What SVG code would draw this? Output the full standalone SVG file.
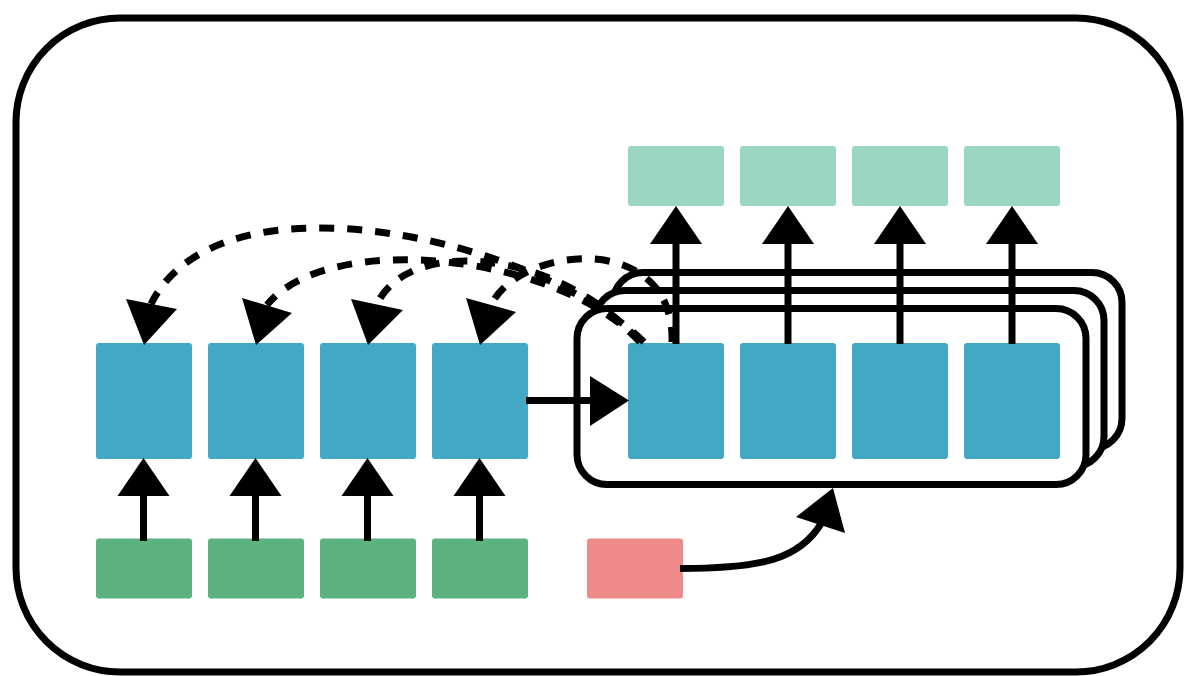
<svg xmlns="http://www.w3.org/2000/svg" width="1186" height="676" viewBox="0 0 1186 676">
  <style>
    .frame { fill: #ffffff; stroke: #000000; stroke-width: 7; }
    .stack { fill: #ffffff; stroke: #000000; stroke-width: 7; }
    .enc { fill: #42a8c4; }
    .dec { fill: #42a8c4; }
    .inp { fill: #5bb280; }
    .out { fill: #9bd6c5; }
    .ctx { fill: #ef8a8a; }
    .line { fill: none; stroke: #000000; stroke-width: 7; }
    .dash { fill: none; stroke: #000000; stroke-width: 7; stroke-dasharray: 15 13; }
    .head { fill: #000000; }
  </style>

  <!-- outer frame -->
  <rect class="frame" x="16" y="18" width="1164" height="654" rx="104" ry="104"/>

  <!-- stacked decoder layers (back to front) -->
  <g id="decoder-stack">
    <rect class="stack" x="613" y="272.5" width="509" height="176" rx="30" ry="30"/>
    <rect class="stack" x="595" y="290.5" width="509" height="176" rx="30" ry="30"/>
    <rect class="stack" x="577" y="308.5" width="509" height="176" rx="30" ry="30"/>
  </g>

  <!-- input tokens -->
  <g id="input-1"><rect class="inp" x="96" y="538.5" width="96" height="60" rx="3"/></g>
  <g id="input-2"><rect class="inp" x="208" y="538.5" width="96" height="60" rx="3"/></g>
  <g id="input-3"><rect class="inp" x="320" y="538.5" width="96" height="60" rx="3"/></g>
  <g id="input-4"><rect class="inp" x="432" y="538.5" width="96" height="60" rx="3"/></g>

  <!-- encoder states -->
  <g id="encoder-1"><rect class="enc" x="96" y="343" width="96" height="116" rx="3"/></g>
  <g id="encoder-2"><rect class="enc" x="208" y="343" width="96" height="116" rx="3"/></g>
  <g id="encoder-3"><rect class="enc" x="320" y="343" width="96" height="116" rx="3"/></g>
  <g id="encoder-4"><rect class="enc" x="432" y="343" width="96" height="116" rx="3"/></g>

  <!-- decoder states -->
  <g id="decoder-1"><rect class="dec" x="628" y="343" width="96" height="116" rx="3"/></g>
  <g id="decoder-2"><rect class="dec" x="740" y="343" width="96" height="116" rx="3"/></g>
  <g id="decoder-3"><rect class="dec" x="852" y="343" width="96" height="116" rx="3"/></g>
  <g id="decoder-4"><rect class="dec" x="964" y="343" width="96" height="116" rx="3"/></g>

  <!-- outputs -->
  <g id="output-1"><rect class="out" x="628" y="146" width="96" height="60" rx="3"/></g>
  <g id="output-2"><rect class="out" x="740" y="146" width="96" height="60" rx="3"/></g>
  <g id="output-3"><rect class="out" x="852" y="146" width="96" height="60" rx="3"/></g>
  <g id="output-4"><rect class="out" x="964" y="146" width="96" height="60" rx="3"/></g>

  <!-- context / extra input -->
  <g id="context"><rect class="ctx" x="587" y="538.5" width="96" height="60" rx="3"/></g>

  <g id="connectors">
    <!-- inputs up into encoder -->
    <line class="line" x1="143.5" y1="541" x2="143.5" y2="494"/>
    <polygon class="head" points="117.5,496 169.5,496 143.5,458"/>
    <line class="line" x1="255.5" y1="541" x2="255.5" y2="494"/>
    <polygon class="head" points="229.5,496 281.5,496 255.5,458"/>
    <line class="line" x1="367.5" y1="541" x2="367.5" y2="494"/>
    <polygon class="head" points="341.5,496 393.5,496 367.5,458"/>
    <line class="line" x1="479.5" y1="541" x2="479.5" y2="494"/>
    <polygon class="head" points="453.5,496 505.5,496 479.5,458"/>

    <!-- encoder to decoder -->
    <line class="line" x1="526" y1="400.5" x2="592" y2="400.5"/>
    <polygon class="head" points="590,376 590,426 629,400.5"/>

    <!-- decoder up to outputs -->
    <line class="line" x1="676" y1="344" x2="676" y2="242"/>
    <polygon class="head" points="650,244 702,244 676,206"/>
    <line class="line" x1="788" y1="344" x2="788" y2="242"/>
    <polygon class="head" points="762,244 814,244 788,206"/>
    <line class="line" x1="900" y1="344" x2="900" y2="242"/>
    <polygon class="head" points="874,244 926,244 900,206"/>
    <line class="line" x1="1012" y1="344" x2="1012" y2="242"/>
    <polygon class="head" points="986,244 1038,244 1012,206"/>

    <!-- context into decoder stack -->
    <path class="line" d="M680,568.5 C760,568.5 800,560 822,522"/>
    <polygon class="head" points="796,517 845,533 833,488"/>

    <!-- attention arcs -->
    <path class="dash" d="M644,342 C540,240 220,165 151,304"/>
    <polygon class="head" points="126,299 177,309 144,345"/>
    <path class="dash" d="M640,342 C560,255 330,228 267,305"/>
    <polygon class="head" points="242,298 292,313 256,345"/>
    <path class="dash" d="M640,342 C560,250 410,235 377,304"/>
    <polygon class="head" points="351,299 403,310 368,345"/>
    <path class="dash" d="M672,342 C675,230 520,245 491,305"/>
    <polygon class="head" points="466,298 516,312 480,345"/>
  </g>
</svg>
